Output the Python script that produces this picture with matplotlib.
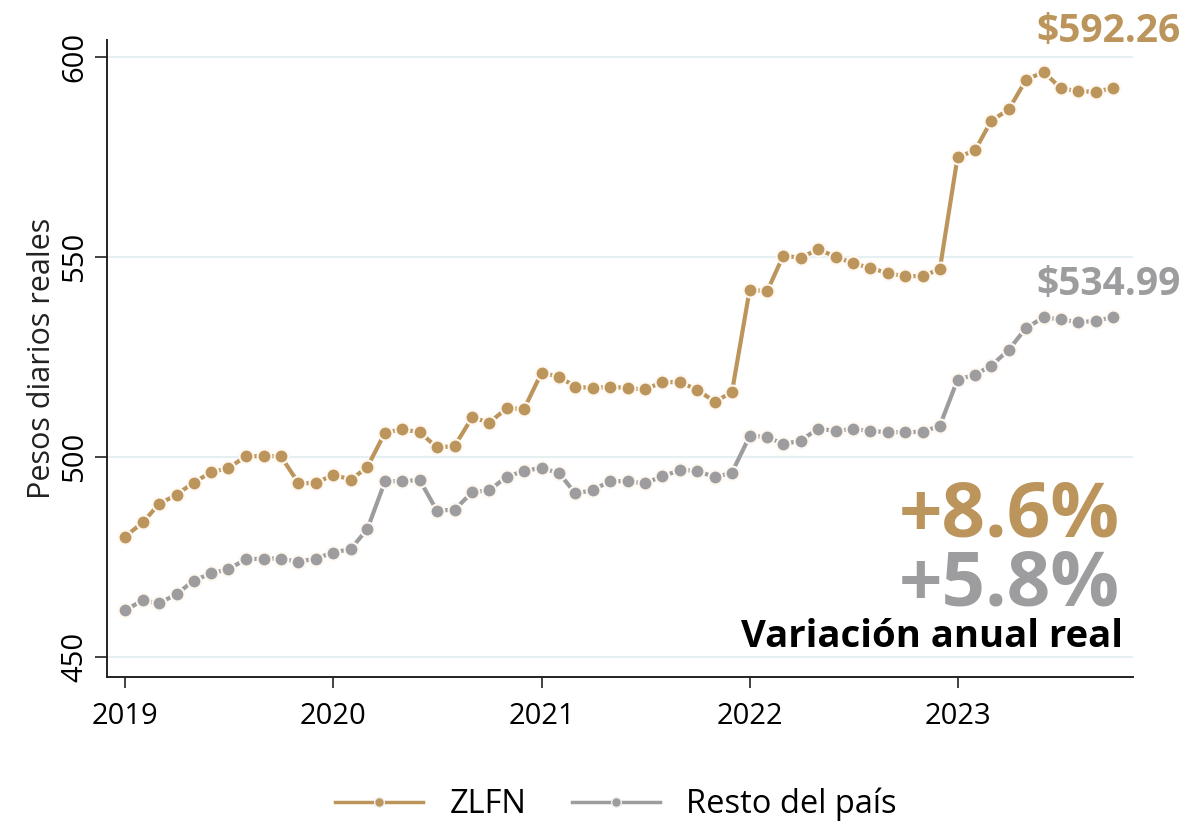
import matplotlib
matplotlib.use("Agg")
import matplotlib.pyplot as plt
import matplotlib.dates as mdates
from matplotlib.lines import Line2D
import pandas as pd

# Salario diario real, mensual ene-2019 a oct-2023
meses = pd.date_range(start="2019-01-01", periods=58, freq="MS")

zlfn = [480.1, 483.7, 488.2, 490.6, 493.6, 496.2, 497.2, 500.2, 500.2, 500.2, 493.5, 493.4,
        495.6, 494.3, 497.5, 506.1, 506.9, 506.2, 502.4, 502.7, 509.9, 508.6, 512.2, 512.0,
        521.1, 520.0, 517.6, 517.2, 517.6, 517.2, 516.9, 518.7, 518.7, 516.8, 513.8, 516.2,
        541.7, 541.5, 550.3, 549.8, 551.9, 550.1, 548.4, 547.3, 545.9, 545.2, 545.2, 547.0,
        574.9, 576.7, 584.0, 586.9, 594.2, 596.3, 592.2, 591.4, 591.3, 592.26]

resto = [461.7, 464.2, 463.4, 465.7, 469.1, 470.9, 472.0, 474.4, 474.6, 474.6, 473.8, 474.6,
         476.1, 477.0, 482.0, 493.9, 494.0, 494.2, 486.6, 486.8, 491.2, 491.7, 495.1, 496.5,
         497.3, 495.9, 490.9, 491.7, 494.0, 493.9, 493.4, 495.2, 496.7, 496.6, 494.9, 496.1,
         505.2, 505.1, 503.2, 504.1, 507.1, 506.5, 507.0, 506.5, 506.2, 506.2, 506.3, 507.8,
         519.3, 520.6, 522.8, 526.8, 532.2, 534.9, 534.4, 533.7, 534.0, 534.99]

series_names = ["ZLFN", "Resto del país"]
var_anual = ["+8.6%", "+5.8%"]
y_ticks = [450, 500, 550, 600]
x_years = [2019, 2020, 2021, 2022, 2023]

oro = "#BC955C"
gris = "#9D9D9F"

plt.rcParams["font.family"] = ["Open Sans", "DejaVu Sans"]

fig = plt.figure(figsize=(11.96, 8.24), dpi=100)
ax = fig.add_axes([0.0895, 0.1784, 0.8578, 0.7731])

for vals, color in [(zlfn, oro), (resto, gris)]:
    ax.plot(meses, vals, color=color, lw=3.0, marker="o", markersize=10,
            markerfacecolor=color, markeredgecolor="#FFF8F0", markeredgewidth=1.5,
            zorder=3)

ax.set_ylim(445, 604.25)
ax.set_xlim(pd.Timestamp("2018-11-30"), pd.Timestamp("2023-11-05"))
ax.set_yticks(y_ticks)
ax.set_xticks([pd.Timestamp(f"{y}-01-01") for y in x_years])
ax.xaxis.set_major_formatter(mdates.DateFormatter("%Y"))

ax.grid(axis="y", color="#E6EFF1", lw=1.6, zorder=0)
ax.grid(axis="x", visible=False)
for s in ["top", "right"]:
    ax.spines[s].set_visible(False)
for s in ["left", "bottom"]:
    ax.spines[s].set_linewidth(1.4)
    ax.spines[s].set_color("#222222")

ax.tick_params(axis="y", length=9, width=1.3, labelsize=21, pad=4, color="#333333")
ax.tick_params(axis="x", length=8, width=1.3, labelsize=21, pad=10, color="#333333")
for lab in ax.get_yticklabels():
    lab.set_rotation(90)
    lab.set_va("center")
ax.set_ylabel("Pesos diarios reales", fontsize=22, labelpad=2, color="#222222")

# valores finales
ax.annotate(f"${zlfn[-1]:.2f}", xy=(meses[-1], zlfn[-1]), xytext=(-3, 33),
            textcoords="offset points", ha="center", va="baseline",
            fontsize=28, fontweight="bold", color=oro, annotation_clip=False)
ax.annotate(f"${resto[-1]:.2f}", xy=(meses[-1], resto[-1]), xytext=(-3, 16),
            textcoords="offset points", ha="center", va="baseline",
            fontsize=28, fontweight="bold", color=gris, annotation_clip=False)

ax.text(0.987, 0.2198, var_anual[0], transform=ax.transAxes, ha="right", va="baseline",
        fontsize=55, fontweight="bold", color=oro)
ax.text(0.987, 0.1115, var_anual[1], transform=ax.transAxes, ha="right", va="baseline",
        fontsize=55, fontweight="bold", color=gris)
ax.text(0.99, 0.047, "Variación anual real", transform=ax.transAxes, ha="right",
        va="baseline", fontsize=27.5, fontweight="bold", color="black")

handles = [Line2D([0], [0], color=c, lw=2.5, marker="o", markersize=7,
                  markerfacecolor=c, markeredgecolor="#EEEEEE")
           for c in [oro, gris]]
fig.legend(handles, series_names, loc="center", bbox_to_anchor=(0.515, 0.024),
           ncol=2, frameon=False, fontsize=23.5, handlelength=2.7,
           columnspacing=1.4, handletextpad=0.8)

fig.savefig("out.png", dpi=100)
